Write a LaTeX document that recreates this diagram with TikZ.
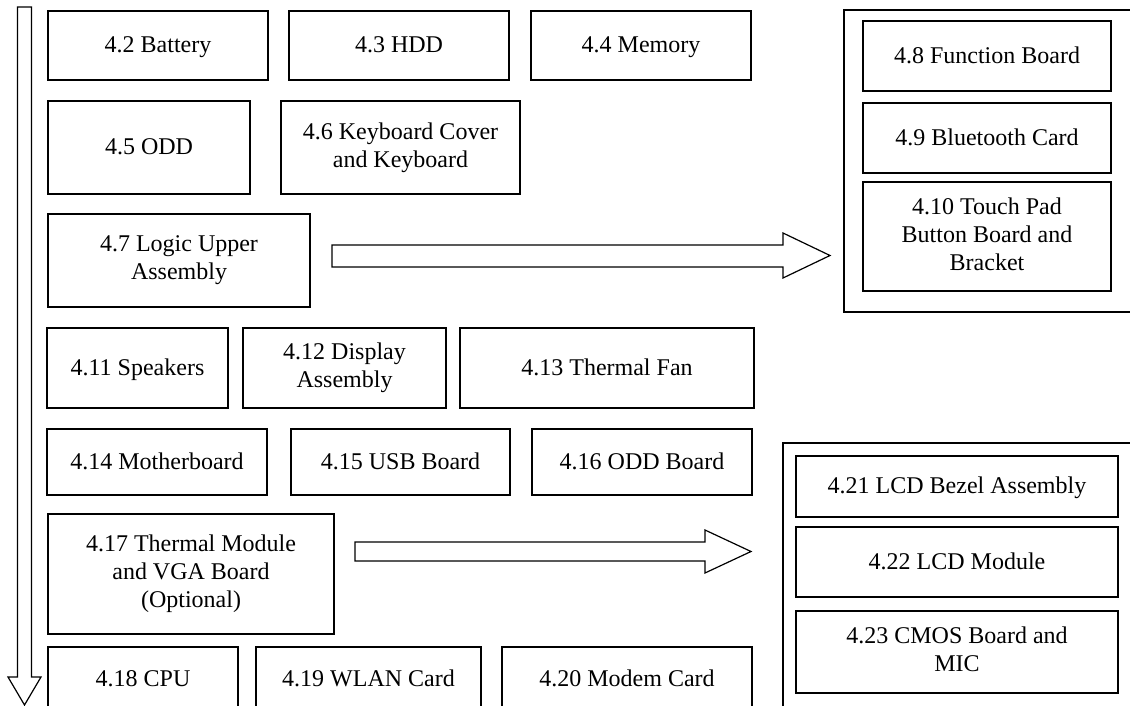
\documentclass[tikz,border=0pt]{standalone}
\usepackage{fontspec}
\setmainfont{Liberation Serif}
\usetikzlibrary{positioning}

\begin{document}
\begin{tikzpicture}[x=1pt, y=-1pt,
	part/.style 2 args={draw, line width=1.4pt, anchor=north west, inner sep=0pt, outer sep=0pt,
		minimum width=#1pt, minimum height=#2pt, align=center, font=\fontsize{24}{28}\selectfont,
		execute at begin node={\vrule height 20pt width 0pt},
		execute at end node={\vrule depth 5pt width 0pt}},
	group/.style 2 args={draw, line width=1.8pt, anchor=north west, inner sep=0pt,
		minimum width=#1pt, minimum height=#2pt},
	flow/.style={draw, line width=1.2pt, fill=white}]
	\useasboundingbox (0,0) rectangle (1130,706);
	\clip (0,0) rectangle (1130,706);

	% order of removal
	\draw[flow] (17.5,7) -- (31.5,7) -- (31.5,677) -- (41,677) -- (24.5,705) -- (8,677) -- (17.5,677) -- cycle;

	% left column
	\node[part={220}{69}] (bat) at (48,11) {4.2 Battery};
	\node[part={220}{69}] (hdd) at (289,11) {4.3 HDD};
	\node[part={220}{69}] (mem) at (531,11) {4.4 Memory};
	\node[part={202}{93}] (odd) at (48,101) {4.5 ODD};
	\node[part={239}{93}] (kbd) at (281,101) {4.6 Keyboard Cover\\and Keyboard};
	\node[part={262}{93}] (logic) at (48,214) {4.7 Logic Upper\\Assembly};
	\node[part={181}{80}] (spk) at (47,328) {4.11 Speakers};
	\node[part={203}{80}] (disp) at (243,328) {4.12 Display\\Assembly};
	\node[part={294}{80}] (fan) at (460,328) {4.13 Thermal Fan};
	\node[part={220}{66}] (mb) at (47,429) {4.14 Motherboard};
	\node[part={219}{66}] (usb) at (291,429) {4.15 USB Board};
	\node[part={220}{66}] (oddb) at (532,429) {4.16 ODD Board};
	\node[part={286}{120}] (therm) at (48,514) {4.17 Thermal Module\\and VGA Board\\(Optional)};
	\node[part={190}{64}] (cpu) at (48,647) {4.18 CPU};
	\node[part={225}{64}] (wlan) at (256,647) {4.19 WLAN Card};
	\node[part={250}{64}] (modem) at (502,647) {4.20 Modem Card};

	% logic upper group
	\node[group={320}{302}] (grpA) at (843,9) {};
	\node[part={248}{70}] (fnb) at (863,21) {4.8 Function Board};
	\node[part={248}{70}] (bt) at (863,103) {4.9 Bluetooth Card};
	\node[part={248}{109}] (tp) at (863,182) {4.10 Touch Pad\\Button Board and\\Bracket};

	% display group
	\node[group={380}{300}] (grpB) at (782,442) {};
	\node[part={322}{61}] (lcdb) at (796,456) {4.21 LCD Bezel Assembly};
	\node[part={322}{70}] (lcdm) at (796,527) {4.22 LCD Module};
	\node[part={322}{82}] (cmos) at (796,611) {4.23 CMOS Board and\\MIC};

	% block arrows
	\draw[flow] (332,245) -- (783,245) -- (783,233) -- (830,255.5) -- (783,278) -- (783,267) -- (332,267) -- cycle;
	\draw[flow] (355,542) -- (705,542) -- (705,530) -- (751,551.5) -- (705,573) -- (705,561) -- (355,561) -- cycle;
\end{tikzpicture}
\end{document}
